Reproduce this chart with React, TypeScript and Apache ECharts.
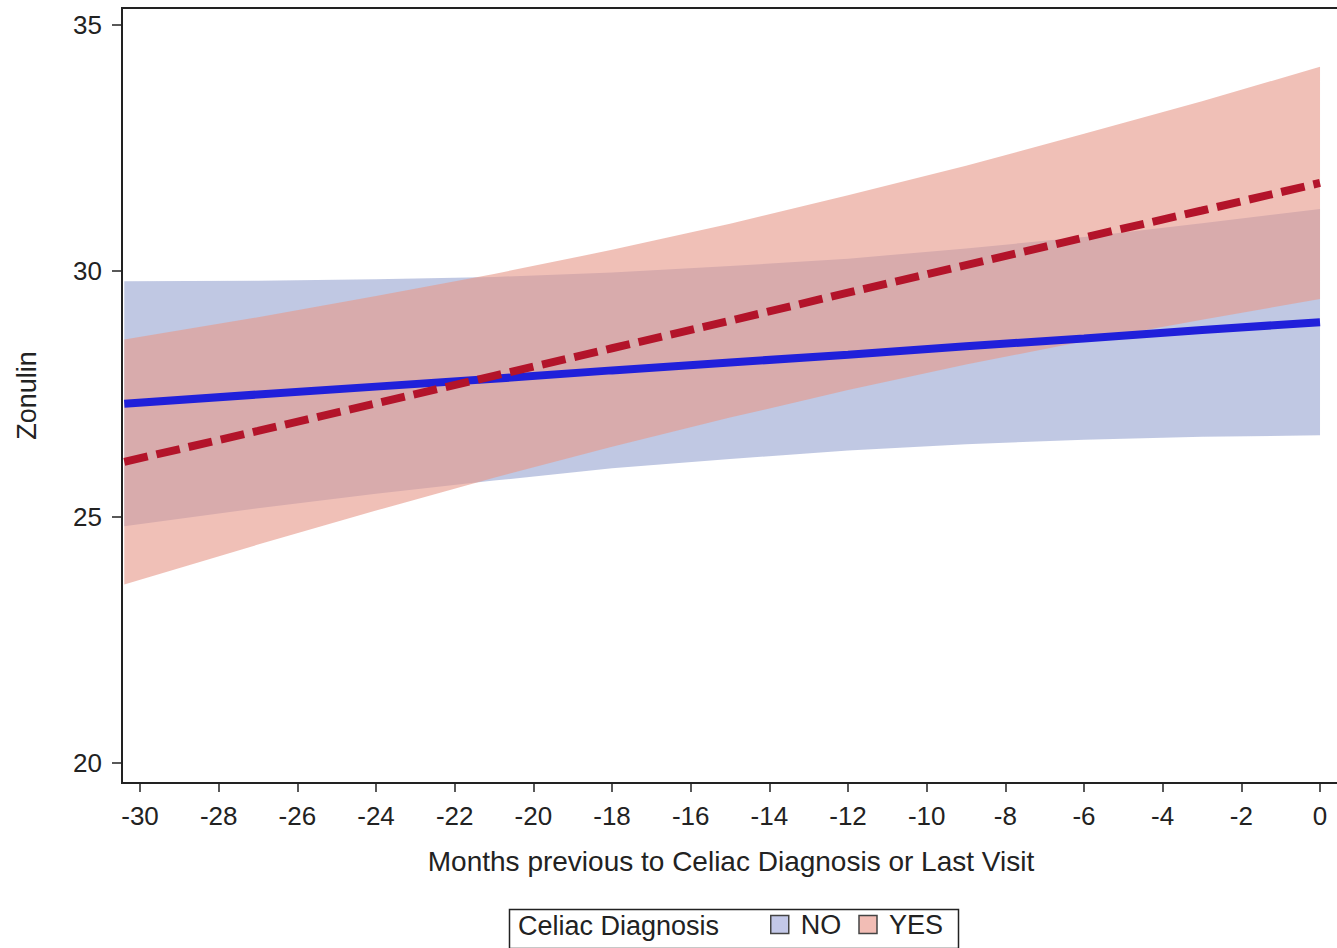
import React, { useEffect, useRef } from "react";
import * as echarts from "echarts";

// Months before diagnosis / last visit
const months = [-30.4, -27, -24, -21, -18, -15, -12, -9, -6, -3, 0];

// Celiac Diagnosis = NO
const noFit = [27.3, 27.49, 27.65, 27.81, 27.98, 28.14, 28.3, 28.47, 28.63, 28.8, 28.96];
const noUpper = [29.79, 29.8, 29.83, 29.88, 29.97, 30.1, 30.25, 30.46, 30.69, 30.97, 31.26];
const noLower = [24.81, 25.18, 25.47, 25.74, 25.99, 26.18, 26.35, 26.48, 26.57, 26.63, 26.66];

// Celiac Diagnosis = YES
const yesFit = [26.12, 26.75, 27.31, 27.87, 28.43, 28.99, 29.56, 30.12, 30.68, 31.23, 31.79];
const yesUpper = [28.61, 29.06, 29.49, 29.94, 30.43, 30.96, 31.54, 32.14, 32.79, 33.45, 34.15];
const yesLower = [23.63, 24.44, 25.13, 25.8, 26.43, 27.02, 27.58, 28.1, 28.57, 29.01, 29.43];

const xTicks = [-30, -28, -26, -24, -22, -20, -18, -16, -14, -12, -10, -8, -6, -4, -2, 0];
const yTicks = [20, 25, 30, 35];

const legendTitle = "Celiac Diagnosis";
const groups = ["NO", "YES"];

const FONT = "'Liberation Sans', Arial, sans-serif";
const TXT = "#222";

const NO_FILL = "rgba(115,134,193,0.45)";
const YES_FILL = "rgba(231,153,139,0.62)";

function bandData(lo: number[], hi: number[]) {
  return months.map((m, i) => [m, lo[i], hi[i]]);
}

function bandSeries(name: string, lo: number[], hi: number[], fill: string, z: number) {
  return {
    name,
    type: "custom",
    coordinateSystem: "cartesian2d",
    data: bandData(lo, hi),
    encode: { x: 0, y: [1, 2] },
    silent: true,
    z,
    itemStyle: { color: fill },
    renderItem: (params: any, api: any) => {
      if (params.dataIndex !== 0) return null;
      const top = months.map((m, i) => api.coord([m, hi[i]]));
      const bottom = months.map((m, i) => api.coord([m, lo[i]])).reverse();
      return {
        type: "polygon",
        shape: { points: top.concat(bottom) },
        style: { fill, stroke: "none" },
      };
    },
  };
}

export default function App() {
  const ref = useRef<HTMLDivElement>(null);

  useEffect(() => {
    if (!ref.current) return;
    const chart = echarts.init(ref.current, null, { renderer: "svg" });

    chart.setOption({
      animation: false,
      backgroundColor: "#fff",
      grid: {
        left: 122,
        top: 8,
        right: -3,
        bottom: 165,
        show: true,
        borderColor: TXT,
        borderWidth: 2,
        outerBoundsMode: "none",
      },
      xAxis: {
        type: "value",
        min: -30.458,
        max: 0.508,
        name: "Months previous to Celiac Diagnosis or Last Visit",
        nameLocation: "middle",
        nameGap: 64,
        nameTextStyle: { fontFamily: FONT, fontSize: 28, color: TXT },
        axisLine: { show: true, onZero: false, lineStyle: { color: TXT, width: 2 } },
        axisTick: { show: true, length: 9, lineStyle: { color: TXT, width: 1.5 }, customValues: xTicks },
        axisLabel: {
          fontFamily: FONT,
          fontSize: 26,
          color: TXT,
          margin: 20,
          customValues: xTicks,
        },
        splitLine: { show: false },
      },
      yAxis: {
        type: "value",
        min: 19.593,
        max: 35.346,
        name: "Zonulin",
        nameLocation: "middle",
        nameRotate: 90,
        nameGap: 82,
        nameTextStyle: { fontFamily: FONT, fontSize: 27, color: TXT },
        axisLine: { show: true, onZero: false, lineStyle: { color: TXT, width: 2 } },
        axisTick: { show: true, length: 10, lineStyle: { color: TXT, width: 1.5 }, customValues: yTicks },
        axisLabel: {
          fontFamily: FONT,
          fontSize: 26,
          color: TXT,
          margin: 20,
          customValues: yTicks,
        },
        splitLine: { show: false },
      },
      legend: {
        show: true,
        left: 770,
        top: 911,
        padding: 0,
        itemGap: 17,
        itemWidth: 18,
        itemHeight: 18,
        selectedMode: false,
        textStyle: { fontFamily: FONT, fontSize: 27, color: TXT, padding: [0, 0, 0, 7] },
        data: [
          {
            name: groups[0],
            icon: "rect",
            itemStyle: { color: "#c3c8e8", borderColor: "#444", borderWidth: 1.5 },
          },
          {
            name: groups[1],
            icon: "rect",
            itemStyle: { color: "#f2bdb5", borderColor: "#444", borderWidth: 1.5 },
          },
        ],
      },
      graphic: [
        {
          type: "rect",
          left: 507,
          top: 907,
          shape: { width: 449, height: 39 },
          style: { fill: "none", stroke: TXT, lineWidth: 1.5 },
          z: 100,
        },
        {
          type: "text",
          left: 518,
          top: 912,
          style: { text: legendTitle, font: `27px ${FONT}`, fill: TXT },
          z: 100,
        },
      ],
      series: [
        bandSeries(groups[0], noLower, noUpper, NO_FILL, 1),
        bandSeries(groups[1], yesLower, yesUpper, YES_FILL, 2),
        {
          name: "NO fit",
          type: "line",
          data: months.map((m, i) => [m, noFit[i]]),
          symbol: "none",
          lineStyle: { color: "#2020da", width: 8, cap: "butt" },
          z: 3,
        },
        {
          name: "YES fit",
          type: "line",
          data: months.map((m, i) => [m, yesFit[i]]),
          symbol: "none",
          lineStyle: { color: "#b3142a", width: 8, type: [24, 9], cap: "butt" },
          z: 4,
        },
      ],
    });

    return () => chart.dispose();
  }, []);

  return (
    <div
      ref={ref}
      style={{ position: "absolute", left: 0, top: 0, width: 1337, height: 948 }}
    />
  );
}
